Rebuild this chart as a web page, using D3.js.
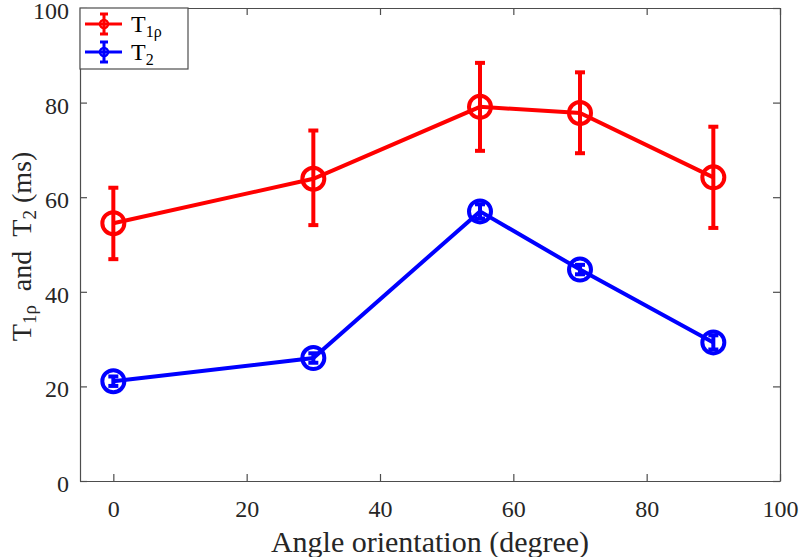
<!DOCTYPE html>
<html><head><meta charset="utf-8">
<script src="https://cdn.jsdelivr.net/npm/d3@7/dist/d3.min.js"></script>
<style>body{margin:0;background:#fff}svg{display:block}text{font-family:"Liberation Serif","Times New Roman",serif}</style>
</head><body><svg id="c" width="800" height="557"></svg>
<script>
const angles = [0, 30, 55, 70, 90];
const t1rho = [54.5, 63.9, 79.1, 77.8, 64.2];
const t1rhoLow = [46.9, 54.1, 69.8, 69.3, 53.5];
const t1rhoHigh = [62.0, 74.1, 88.4, 86.4, 74.9];
const t2 = [21.1, 26.0, 57.0, 44.7, 29.3];
const t2Err = [1.0, 1.0, 1.5, 1.0, 1.5];
const xTicks = [0, 20, 40, 60, 80, 100];
const yTicks = [0, 20, 40, 60, 80, 100];

const svg = d3.select("#c");
const L = 80, R = 780, T = 8, B = 481;
const x = d3.scaleLinear().domain([-5, 100]).range([L, R]);
const y = d3.scaleLinear().domain([0, 100]).range([B, T]);

const axisCol = "#4d4d4d";
const tickFont = "24px";
const gx = svg.append("g").attr("transform", `translate(0,${B})`)
  .call(d3.axisBottom(x).tickValues(xTicks).tickSizeInner(-7).tickSizeOuter(0).tickPadding(19));
const gy = svg.append("g").attr("transform", `translate(${L},0)`)
  .call(d3.axisLeft(y).tickValues(yTicks).tickSizeInner(-7).tickSizeOuter(0).tickPadding(11));
const gx2 = svg.append("g").attr("transform", `translate(0,${T})`)
  .call(d3.axisTop(x).tickValues(xTicks).tickSizeInner(-7).tickSizeOuter(0).tickFormat(""));
const gy2 = svg.append("g").attr("transform", `translate(${R},0)`)
  .call(d3.axisRight(y).tickValues(yTicks).tickSizeInner(-7).tickSizeOuter(0).tickFormat(""));
[gx, gy, gx2, gy2].forEach(g => {
  g.selectAll("path").attr("stroke", axisCol).attr("stroke-width", 1.2);
  g.selectAll("line").attr("stroke", axisCol).attr("stroke-width", 1.2);
  g.selectAll("text").attr("fill", "#262626").style("font-size", tickFont).style("font-family", '"Liberation Serif",serif');
});
gy.selectAll("text").attr("dy", "0.44em");

// labels
svg.append("text").attr("x", (L + R) / 2).attr("y", 552).attr("text-anchor", "middle")
  .style("font-size", "30px").attr("fill", "#262626").text("Angle orientation (degree)");
const yl = svg.append("text").attr("transform", `translate(31,${(T + B) / 2 + 2}) rotate(-90)`)
  .attr("text-anchor", "middle").style("font-size", "28px").attr("fill", "#262626")
  .attr("xml:space", "preserve");
yl.append("tspan").text("T");
yl.append("tspan").attr("baseline-shift", "-25%").style("font-size", "19px").text("1ρ");
yl.append("tspan").text("\u00a0 and \u00a0T");
yl.append("tspan").attr("baseline-shift", "-25%").style("font-size", "19px").text("2");
yl.append("tspan").text(" (ms)");

function drawSeries(color, vals, lo, hi) {
  const g = svg.append("g");
  const line = d3.line().x((d, i) => x(angles[i])).y(d => y(d));
  g.append("path").datum(vals).attr("d", line).attr("fill", "none")
    .attr("stroke", color).attr("stroke-width", 4);
  const cw = 5;
  vals.forEach((v, i) => {
    const cx = x(angles[i]);
    g.append("line").attr("x1", cx).attr("x2", cx).attr("y1", y(lo[i])).attr("y2", y(hi[i]))
      .attr("stroke", color).attr("stroke-width", 4);
    [lo[i], hi[i]].forEach(e => g.append("line").attr("x1", cx - cw).attr("x2", cx + cw)
      .attr("y1", y(e)).attr("y2", y(e)).attr("stroke", color).attr("stroke-width", 4));
    g.append("circle").attr("cx", cx).attr("cy", y(v)).attr("r", 11)
      .attr("fill", "none").attr("stroke", color).attr("stroke-width", 4);
  });
}
drawSeries("#ff0000", t1rho, t1rhoLow, t1rhoHigh);
drawSeries("#0000ff", t2, t2.map((v, i) => v - t2Err[i]), t2.map((v, i) => v + t2Err[i]));

// legend
const lg = svg.append("g");
lg.append("rect").attr("x", L).attr("y", T).attr("width", 108).attr("height", 61)
  .attr("fill", "#fff").attr("stroke", axisCol).attr("stroke-width", 1.2);
const items = [{c: "#ff0000", main: "T", sub: "1ρ"}, {c: "#0000ff", main: "T", sub: "2"}];
items.forEach((it, k) => {
  const cy = T + 16 + k * 28;
  const cx = 104;
  lg.append("line").attr("x1", 85).attr("x2", 122).attr("y1", cy).attr("y2", cy).attr("stroke", it.c).attr("stroke-width", 3);
  lg.append("line").attr("x1", cx).attr("x2", cx).attr("y1", cy - 10).attr("y2", cy + 10).attr("stroke", it.c).attr("stroke-width", 3);
  [cy - 10, cy + 10].forEach(e => lg.append("line").attr("x1", cx - 4).attr("x2", cx + 4).attr("y1", e).attr("y2", e).attr("stroke", it.c).attr("stroke-width", 3));
  lg.append("circle").attr("cx", cx).attr("cy", cy).attr("r", 4).attr("fill", "none").attr("stroke", it.c).attr("stroke-width", 2.5);
  const t = lg.append("text").attr("x", 131).attr("y", cy + 8).style("font-size", "24px").attr("fill", "#000");
  t.append("tspan").text(it.main);
  t.append("tspan").attr("baseline-shift", "-30%").style("font-size", "16px").text(it.sub);
});
</script></body></html>
